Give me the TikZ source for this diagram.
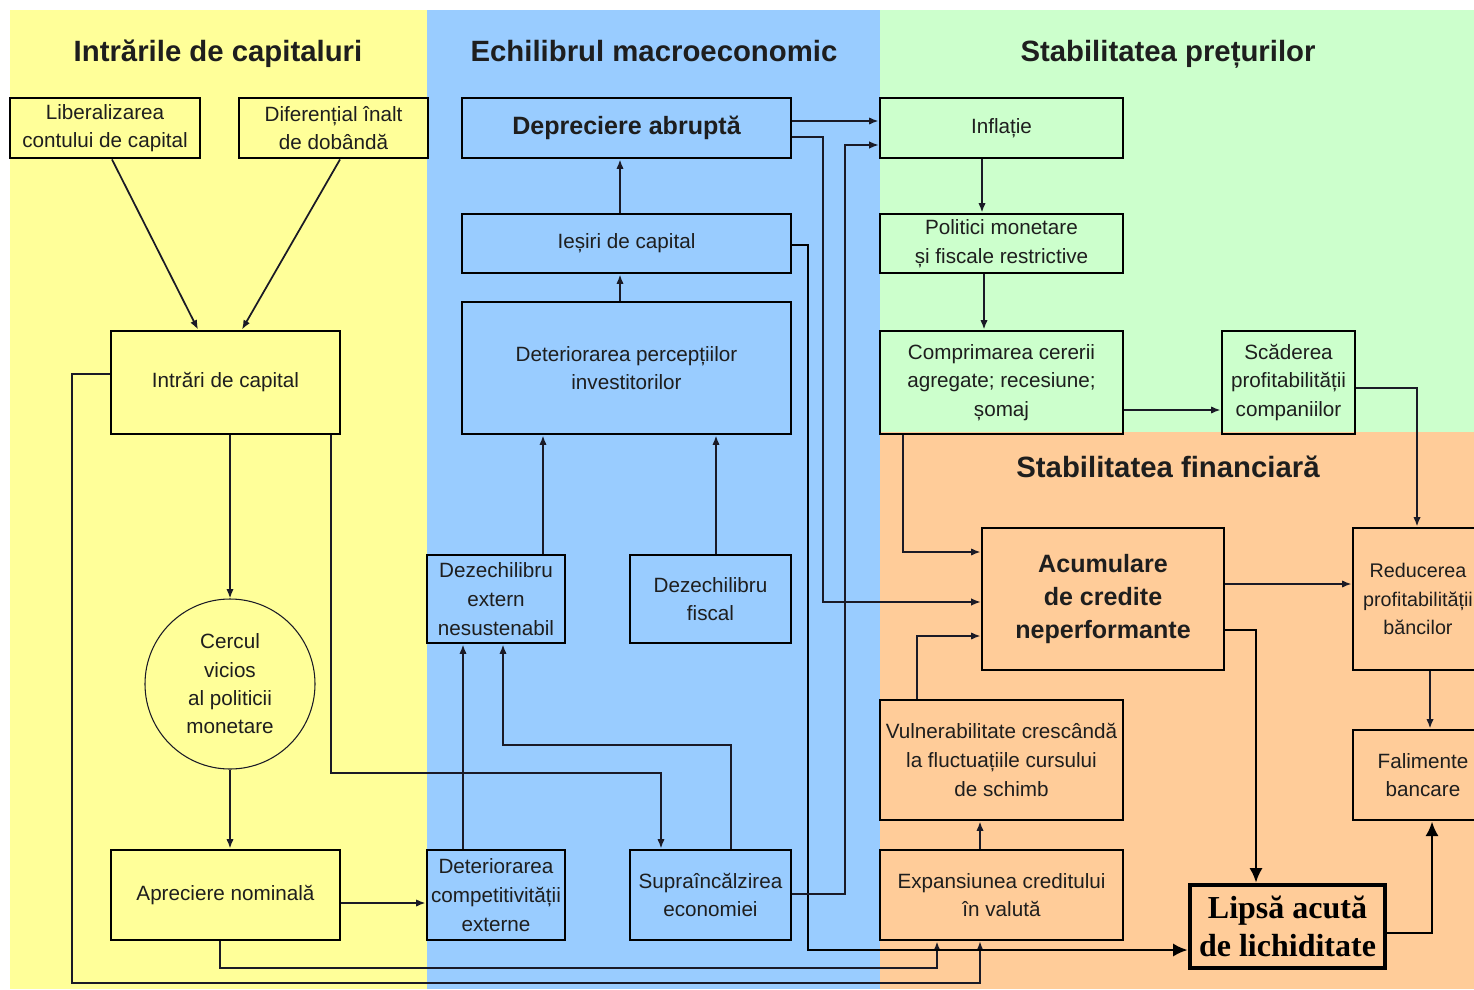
\documentclass[tikz,border=0pt]{standalone}
\usepackage{fontspec}
\setmainfont{Liberation Sans}
\newfontfamily\serifbold{Liberation Serif}
\usetikzlibrary{arrows.meta,calc}
\definecolor{yel}{HTML}{FFFF99}
\definecolor{blu}{HTML}{99CCFF}
\definecolor{grn}{HTML}{CCFFCC}
\definecolor{org}{HTML}{FFCC99}
\definecolor{lc}{HTML}{1A1A26}
\definecolor{tc}{HTML}{1E1E1E}
\tikzset{
  box/.style={draw=black, line width=2.2pt, align=center, inner sep=0pt,
    font=\fontsize{15.5}{21.5}\selectfont, text=tc},
  bbold/.style={font=\fontsize{18.8}{25}\selectfont\bfseries},
  hdr/.style={font=\fontsize{22}{26}\selectfont\bfseries, text=tc, anchor=base},
  arr/.style={draw=lc, line width=1.3pt, -{Latex[length=7pt,width=5.5pt]}},
  thinarr/.style={draw=lc, line width=0.9pt, -{Latex[length=7pt,width=5.5pt]}},
  thickarr/.style={draw=black, line width=2pt, -{Latex[length=11pt,width=10pt]}}
}
\newcommand\boxnode[7][]{%
  \node[box,#1,minimum width={(#5-#3)*0.75pt},minimum height={(#6-#4)*0.75pt}]
    (#2) at ({(#3+#5)/2},{(#4+#6)/2}) {#7};}
\begin{document}
\begin{tikzpicture}[x=0.75pt,y=-0.75pt]
\clip (0,0) rectangle (1474,989);
\useasboundingbox (0,0) rectangle (1474,989);
% backgrounds
\fill[white] (0,0) rectangle (1474,989);
\fill[yel] (10,10) rectangle (427,989);
\fill[blu] (427,10) rectangle (880,989);
\fill[grn] (880,10) rectangle (1474,432);
\fill[org] (880,432) rectangle (1474,989);
% headers
\node[hdr] (h1) at (218,61) {Intrările de capitaluri};
\node[hdr] (h2) at (654,61) {Echilibrul macroeconomic};
\node[hdr] (h3) at (1168,61) {Stabilitatea prețurilor};
\node[hdr] (h4) at (1168,477) {Stabilitatea financiară};
% column 1
\boxnode{lib}{10}{98}{200}{158}{Liberalizarea\\contului de capital}
\boxnode{dif}{239}{98}{428}{158}{Diferențial înalt\\de dobândă}
\boxnode{intr}{111}{331}{340}{434}{Intrări de capital}
\node[draw=lc, line width=0.8pt, circle, minimum size=127.5pt, inner sep=0pt, align=center,
  font=\fontsize{15.5}{21.3}\selectfont, text=tc] (cerc) at (230,684)
  {Cercul\\vicios\\al politicii\\monetare};
\boxnode{apr}{111}{850}{340}{940}{Apreciere nominală}
% column 2
\boxnode[bbold]{dep}{462}{98}{791}{158}{Depreciere abruptă}
\boxnode{ies}{462}{214}{791}{273}{Ieșiri de capital}
\boxnode{perc}{462}{302}{791}{434}{Deteriorarea percepțiilor\\investitorilor}
\boxnode{dext}{427}{555}{565}{643}{Dezechilibru\\extern\\nesustenabil}
\boxnode{dfis}{630}{555}{791}{643}{Dezechilibru\\fiscal}
\boxnode{detc}{427}{850}{565}{940}{Deteriorarea\\competitivității\\externe}
\boxnode{supr}{630}{850}{791}{940}{Supraîncălzirea\\economiei}
% column 3
\boxnode{infl}{880}{98}{1123}{158}{Inflație}
\boxnode{pol}{880}{214}{1123}{273}{Politici monetare\\și fiscale restrictive}
\boxnode{comp}{880}{331}{1123}{434}{Comprimarea cererii\\agregate; recesiune;\\șomaj}
\boxnode{scad}{1222}{331}{1355}{434}{Scăderea\\profitabilității\\companiilor}
\boxnode[bbold]{acu}{982}{528}{1224}{670}{Acumulare\\de credite\\neperformante}
\boxnode[font=\fontsize{14.8}{21.5}\selectfont]{red}{1353}{528}{1483}{670}{Reducerea\\profitabilității\\băncilor}
\boxnode{fal}{1353}{730}{1493}{820}{Falimente\\bancare}
\boxnode{vul}{880}{700}{1123}{820}{Vulnerabilitate crescândă\\la fluctuațiile cursului\\de schimb}
\boxnode{exp}{880}{850}{1123}{940}{Expansiunea creditului\\în valută}
\boxnode[line width=3.4pt, font=\fontsize{24}{28.5}\selectfont\serifbold\bfseries, text=black]{lip}{1190}{885}{1385}{968}{Lipsă acută\\de lichiditate}
% connectors
\draw[arr] (lib.south -| 112,0) -- (intr.north -| 198,0);
\draw[arr] (dif.south -| 340,0) -- (intr.north -| 242,0);
\draw[arr] (intr.south -| 230,0) -- (cerc.north);
\draw[arr] (cerc.south) -- (apr.north -| 230,0);
\draw[arr] (apr.east |- 0,903) -- (detc.west |- 0,903);
\draw[thinarr] (intr.west |- 0,374) -| (72,983) -| (exp.south -| 980,0);
\draw[arr] (intr.south -| 331,0) |- (661,773) -- (supr.north -| 661,0);
\draw[arr] (apr.south -| 220,0) |- (937,968) -- (exp.south -| 937,0);
\draw[arr] (detc.north -| 463,0) -- (dext.south -| 463,0);
\draw[arr] (supr.north -| 731,0) |- (503,745) -- (dext.south -| 503,0);
\draw[arr] (dext.north -| 543,0) -- (perc.south -| 543,0);
\draw[arr] (dfis.north -| 716,0) -- (perc.south -| 716,0);
\draw[arr] (perc.north -| 620,0) -- (ies.south -| 620,0);
\draw[arr] (ies.north -| 620,0) -- (dep.south -| 620,0);
\draw[arr] (dep.east |- 0,121) -- (infl.west |- 0,121);
\draw[thinarr] (dep.east |- 0,137) -| (823,602) -- (acu.west |- 0,602);
\draw[thickarr] (ies.east |- 0,245) -| (808,950) -- (lip.west |- 0,950);
\draw[thinarr] (supr.east |- 0,894) -| (845,145) -- (infl.west |- 0,145);
\draw[arr] (infl.south -| 982,0) -- (pol.north -| 982,0);
\draw[arr] (pol.south -| 984,0) -- (comp.north -| 984,0);
\draw[arr] (comp.east |- 0,410) -- (scad.west |- 0,410);
\draw[arr] (comp.south -| 903,0) |- (acu.west |- 0,552);
\draw[arr] (scad.east |- 0,388) -| (red.north -| 1417,0);
\draw[arr] (vul.north -| 917,0) |- (acu.west |- 0,636);
\draw[arr] (exp.north -| 980,0) -- (vul.south -| 980,0);
\draw[arr] (acu.east |- 0,584) -- (red.west |- 0,584);
\draw[thickarr] (acu.east |- 0,630) -| (lip.north -| 1256,0);
\draw[arr] (red.south -| 1430,0) -- (fal.north -| 1430,0);
\draw[thickarr] (lip.east |- 0,933) -| (fal.south -| 1432,0);
\end{tikzpicture}
\end{document}
